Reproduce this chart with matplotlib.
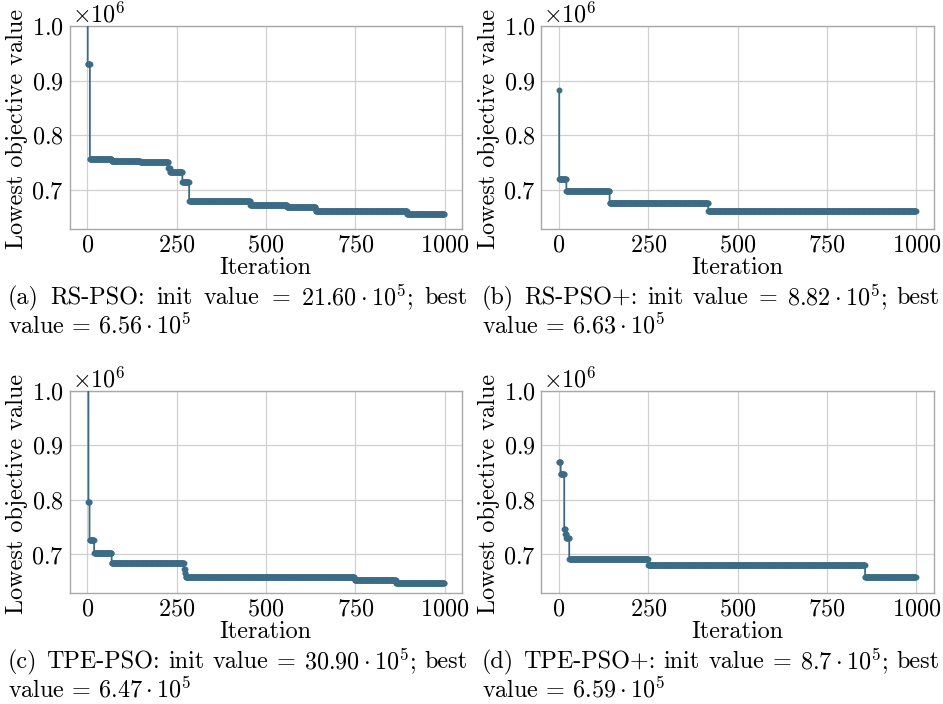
import numpy as np
import matplotlib
matplotlib.use("Agg")
import matplotlib.pyplot as plt

plt.rcParams['font.family'] = 'serif'
plt.rcParams['font.serif'] = ['cmr10']
plt.rcParams['mathtext.fontset'] = 'cm'
plt.rcParams['axes.formatter.use_mathtext'] = True
plt.rcParams['axes.unicode_minus'] = False

N_ITER = 1000

# step change points (iteration) and best-so-far values (x 1e6)
a_start = [0, 1, 7, 68, 148, 227, 231, 266, 285, 456, 559, 639, 895]
a_vals = [2.160, 0.931, 0.757, 0.753, 0.751, 0.740, 0.734, 0.716, 0.680, 0.673, 0.670, 0.663, 0.656]

b_start = [0, 1, 21, 142, 418]
b_vals = [0.882, 0.720, 0.698, 0.677, 0.663]

c_start = [0, 3, 6, 19, 68, 271, 273, 275, 748, 864]
c_vals = [3.090, 0.796, 0.726, 0.703, 0.684, 0.674, 0.667, 0.658, 0.653, 0.647]

d_start = [0, 5, 15, 18, 21, 29, 250, 857]
d_vals = [0.870, 0.847, 0.747, 0.737, 0.730, 0.691, 0.681, 0.659]

captions = [
    (r"(a) RS-PSO: init value = $21.60\cdot10^5$; best", r"value = $6.56\cdot10^5$"),
    (r"(b) RS-PSO+: init value = $8.82\cdot10^5$; best", r"value = $6.63\cdot10^5$"),
    (r"(c) TPE-PSO: init value = $30.90\cdot10^5$; best", r"value = $6.47\cdot10^5$"),
    (r"(d) TPE-PSO+: init value = $8.7\cdot10^5$; best", r"value = $6.59\cdot10^5$"),
]

xlabel = "Iteration"
ylabel = "Lowest objective value"
yticks = [0.7e6, 0.8e6, 0.9e6, 1.0e6]
xticks = [0, 250, 500, 750, 1000]
offset_label = r"$\times10^{6}$"

COLOR = '#3b6b85'
W, H = 943, 704
fig = plt.figure(figsize=(W / 100, H / 100), dpi=100)
renderer = fig.canvas.get_renderer()

# axes boxes in pixels: left, top, right, bottom
boxes = [(69.5, 25.7, 462, 228.7), (541, 25.7, 933.7, 228.7),
         (69.5, 390.7, 462, 592.7), (541, 390.7, 933.7, 592.7)]
# caption: x-left, x-right (justified), y line1, y line2
cap_pos = [(8, 468, 298, 326), (482, 940, 298, 326), (8, 468, 662, 690), (482, 940, 662, 690)]

FS = 17.4
series = [(a_start, a_vals), (b_start, b_vals), (c_start, c_vals), (d_start, d_vals)]


def justified_line(text, x0, x1, y):
    words = text.split(' ')
    objs = [fig.text(0, 1 - y / H, w, fontsize=FS, va='center', ha='left') for w in words]
    widths = [o.get_window_extent(renderer).width for o in objs]
    gap = (x1 - x0 - sum(widths)) / (len(words) - 1)
    x = x0
    for o, wd in zip(objs, widths):
        o.set_x(x / W)
        x += wd + gap


for (starts, vals), box, cap, cp in zip(series, boxes, captions, cap_pos):
    l, t, r, b = box
    ax = fig.add_axes([l / W, 1 - b / H, (r - l) / W, (b - t) / H])
    ends = list(starts[1:]) + [N_ITER]
    counts = np.array(ends) - np.array(starts)
    y = np.repeat(np.array(vals) * 1e6, counts)
    x = np.arange(N_ITER)
    ax.plot(x, y, drawstyle='steps-post', color=COLOR, lw=1.3,
            marker='o', ms=3.2, mec=COLOR, mfc=COLOR, zorder=3)
    ax.set_ylim(0.63e6, 1.0e6)
    ax.set_xlim(-50, 1049)
    ax.set_yticks(yticks)
    ax.set_xticks(xticks)
    ax.grid(True, color='#d0d0d0', lw=0.9)
    ax.set_axisbelow(True)
    for s in ax.spines.values():
        s.set_color('#a8a8a8')
        s.set_linewidth(1.0)
    ax.tick_params(length=0, pad=4, labelsize=FS)
    ax.yaxis.get_offset_text().set_visible(False)
    fig.text((l + 2) / W, 1 - (t - 3) / H, offset_label, fontsize=FS,
             va='baseline', ha='left')
    ax.set_xlabel(xlabel, fontsize=FS, labelpad=0)
    ax.set_ylabel(ylabel, fontsize=FS)
    ax.yaxis.set_label_coords(-0.105, 0.49)
    justified_line(cap[0], cp[0], cp[1], cp[2])
    fig.text(cp[0] / W, 1 - cp[3] / H, cap[1], fontsize=FS, va='center', ha='left')

fig.savefig('out.png', dpi=100)
